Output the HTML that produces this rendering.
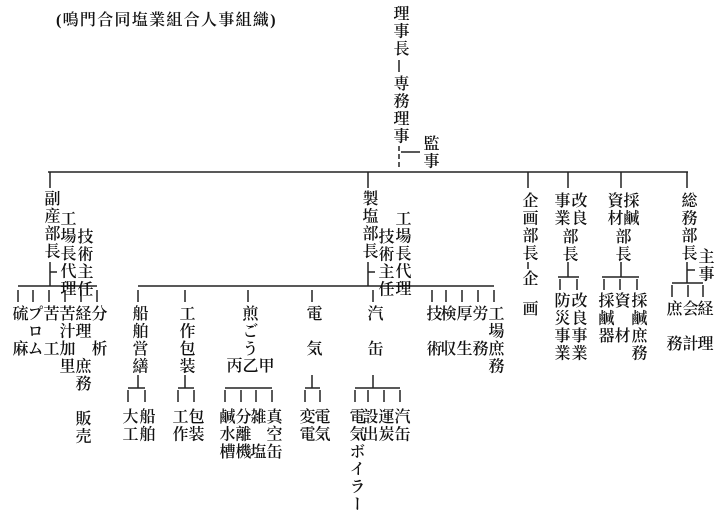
<!DOCTYPE html>
<html><head><meta charset="utf-8">
<style>
html,body{margin:0;padding:0;background:#fff;}
body{width:722px;height:504px;position:relative;overflow:hidden;}
.c{position:absolute;writing-mode:vertical-rl;font-family:"Liberation Serif","Noto Serif CJK SC","Noto Sans CJK JP",serif;font-size:16px;line-height:16px;letter-spacing:1.5px;width:16px;color:#111;white-space:nowrap;font-weight:600;}
.t{position:absolute;left:56px;top:7px;font-family:"Liberation Serif","Noto Serif CJK SC",serif;font-size:16px;letter-spacing:1.3px;color:#111;white-space:nowrap;font-weight:600;}
svg{position:absolute;left:0;top:0;}
</style></head><body>
<div class="t">(鳴門合同塩業組合人事組織)</div>
<svg width="722" height="504" stroke="#222" stroke-width="1.5" fill="none">
<line x1="399" y1="60" x2="399" y2="72"/>
<line x1="399" y1="146" x2="399" y2="170" stroke-dasharray="5,3"/>
<line x1="401" y1="152" x2="420" y2="152"/>
<line x1="48" y1="172" x2="688" y2="172"/>
<line x1="50" y1="172" x2="50" y2="188"/>
<line x1="368" y1="172" x2="368" y2="188"/>
<line x1="528" y1="172" x2="528" y2="188"/>
<line x1="568" y1="172" x2="568" y2="188"/>
<line x1="621" y1="172" x2="621" y2="188"/>
<line x1="687" y1="172" x2="687" y2="188"/>
<line x1="50" y1="262" x2="50" y2="286"/>
<line x1="50" y1="272" x2="57" y2="272"/>
<line x1="18" y1="286" x2="97" y2="286"/>
<line x1="18" y1="290" x2="18" y2="302"/><line x1="33" y1="290" x2="33" y2="302"/><line x1="49" y1="290" x2="49" y2="302"/><line x1="65" y1="290" x2="65" y2="302"/><line x1="81" y1="290" x2="81" y2="302"/><line x1="97" y1="290" x2="97" y2="302"/>
<line x1="368" y1="262" x2="368" y2="286"/>
<line x1="368" y1="272" x2="375" y2="272"/>
<line x1="138" y1="286" x2="494" y2="286"/>
<line x1="138" y1="290" x2="138" y2="302"/><line x1="185" y1="290" x2="185" y2="302"/><line x1="248" y1="290" x2="248" y2="302"/><line x1="312" y1="290" x2="312" y2="302"/><line x1="373" y1="290" x2="373" y2="302"/>
<line x1="432" y1="290" x2="432" y2="302"/><line x1="446" y1="290" x2="446" y2="302"/><line x1="462" y1="290" x2="462" y2="302"/><line x1="478" y1="290" x2="478" y2="302"/><line x1="494" y1="290" x2="494" y2="302"/>
<line x1="138" y1="375" x2="138" y2="388"/><line x1="128" y1="388" x2="145" y2="388"/><line x1="128" y1="390" x2="128" y2="402"/><line x1="145" y1="390" x2="145" y2="402"/>
<line x1="185" y1="375" x2="185" y2="388"/><line x1="178" y1="388" x2="194" y2="388"/><line x1="178" y1="390" x2="178" y2="402"/><line x1="194" y1="390" x2="194" y2="402"/>
<line x1="225" y1="388" x2="272" y2="388"/><line x1="225" y1="390" x2="225" y2="402"/><line x1="241" y1="390" x2="241" y2="402"/><line x1="256" y1="390" x2="256" y2="402"/><line x1="272" y1="390" x2="272" y2="402"/>
<line x1="312" y1="375" x2="312" y2="388"/><line x1="305" y1="388" x2="320" y2="388"/><line x1="305" y1="390" x2="305" y2="402"/><line x1="320" y1="390" x2="320" y2="402"/>
<line x1="373" y1="375" x2="373" y2="388"/><line x1="355" y1="388" x2="400" y2="388"/><line x1="355" y1="390" x2="355" y2="402"/><line x1="368" y1="390" x2="368" y2="402"/><line x1="384" y1="390" x2="384" y2="402"/><line x1="400" y1="390" x2="400" y2="402"/>
<line x1="528" y1="262" x2="528" y2="269"/>
<line x1="568" y1="262" x2="568" y2="277"/><line x1="558" y1="277" x2="579" y2="277"/><line x1="560" y1="279" x2="560" y2="290"/><line x1="577" y1="279" x2="577" y2="290"/>
<line x1="621" y1="262" x2="621" y2="277"/><line x1="602" y1="277" x2="639" y2="277"/><line x1="604" y1="279" x2="604" y2="290"/><line x1="620" y1="279" x2="620" y2="290"/><line x1="637" y1="279" x2="637" y2="290"/>
<line x1="687" y1="262" x2="687" y2="283"/><line x1="687" y1="270" x2="695" y2="270"/><line x1="672" y1="283" x2="703" y2="283"/><line x1="672" y1="285" x2="672" y2="297"/><line x1="688" y1="285" x2="688" y2="297"/><line x1="703" y1="285" x2="703" y2="297"/>
</svg>
<div class="c" style="left:391px;top:5px">理事長</div>
<div class="c" style="left:391px;top:75px">専務理事</div>
<div class="c" style="left:421px;top:135px">監事</div>

<div class="c" style="left:42px;top:190px">副産部長</div>
<div class="c" style="left:58px;top:210px">工場長代理</div>
<div class="c" style="left:75px;top:228px">技術主任</div>
<div class="c" style="left:10px;top:305px">硫　麻</div>
<div class="c" style="left:25px;top:305px">プロム</div>
<div class="c" style="left:41px;top:305px">苦　工</div>
<div class="c" style="left:57px;top:305px">苦汁加里</div>
<div class="c" style="left:73px;top:305px">経理　庶務　販売</div>
<div class="c" style="left:89px;top:305px">分　析</div>

<div class="c" style="left:360px;top:190px">製塩部長</div>
<div class="c" style="left:376px;top:228px">技術主任</div>
<div class="c" style="left:393px;top:210px">工場長代理</div>
<div class="c" style="left:130px;top:305px">船舶営繕</div>
<div class="c" style="left:120px;top:408px">大工</div>
<div class="c" style="left:137px;top:408px">船舶</div>
<div class="c" style="left:177px;top:305px">工作包装</div>
<div class="c" style="left:170px;top:408px">工作</div>
<div class="c" style="left:186px;top:408px">包装</div>
<div class="c" style="left:240px;top:305px">煎ごう</div>
<div class="c" style="left:224px;top:357px">丙</div>
<div class="c" style="left:240px;top:357px">乙</div>
<div class="c" style="left:256px;top:357px">甲</div>
<div class="c" style="left:217px;top:408px">鹹水槽</div>
<div class="c" style="left:233px;top:408px">分離機</div>
<div class="c" style="left:248px;top:408px">雑　塩</div>
<div class="c" style="left:264px;top:408px">真空缶</div>
<div class="c" style="left:304px;top:305px">電　気</div>
<div class="c" style="left:297px;top:408px">変電</div>
<div class="c" style="left:312px;top:408px">電気</div>
<div class="c" style="left:365px;top:305px">汽　缶</div>
<div class="c" style="left:347px;top:408px">電気ボイラー</div>
<div class="c" style="left:360px;top:408px">設出</div>
<div class="c" style="left:376px;top:408px">運炭</div>
<div class="c" style="left:392px;top:408px">汽缶</div>
<div class="c" style="left:424px;top:305px">技　術</div>
<div class="c" style="left:438px;top:305px">検　収</div>
<div class="c" style="left:454px;top:305px">厚　生</div>
<div class="c" style="left:470px;top:305px">労　務</div>
<div class="c" style="left:486px;top:305px">工場庶務</div>

<div class="c" style="left:520px;top:192px">企画部長</div>
<div class="c" style="left:520px;top:270px">企</div>
<div class="c" style="left:520px;top:300px">画</div>

<div class="c" style="left:552px;top:192px">事業</div>
<div class="c" style="left:569px;top:192px">改良</div>
<div class="c" style="left:560px;top:228px">部長</div>
<div class="c" style="left:552px;top:292px">防災事業</div>
<div class="c" style="left:569px;top:292px">改良事業</div>

<div class="c" style="left:605px;top:192px">資材</div>
<div class="c" style="left:621px;top:192px">採鹹</div>
<div class="c" style="left:613px;top:228px">部長</div>
<div class="c" style="left:596px;top:292px">採鹹器</div>
<div class="c" style="left:612px;top:292px">資　材</div>
<div class="c" style="left:629px;top:292px">採鹹庶務</div>

<div class="c" style="left:679px;top:192px">総務部長</div>
<div class="c" style="left:696px;top:248px">主事</div>
<div class="c" style="left:664px;top:300px">庶　務</div>
<div class="c" style="left:680px;top:300px">会　計</div>
<div class="c" style="left:695px;top:300px">経　理</div>
</body></html>
